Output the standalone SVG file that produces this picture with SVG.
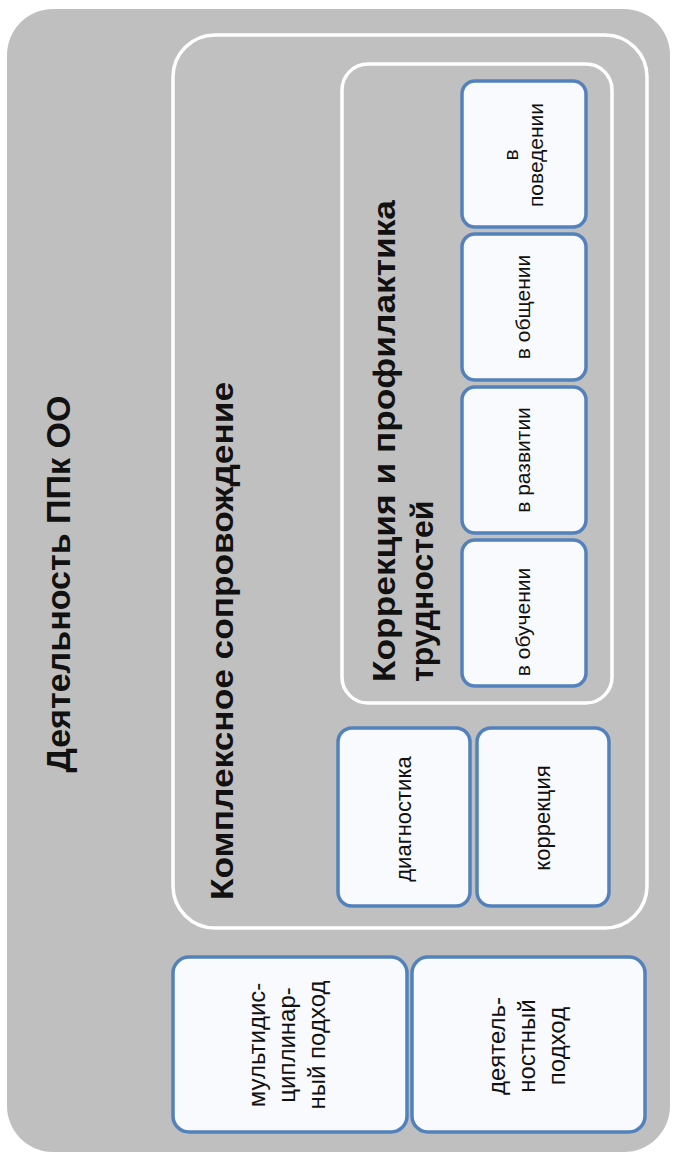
<svg xmlns="http://www.w3.org/2000/svg" width="673" height="1156" viewBox="0 0 673 1156">
<style>
.bg{fill:#bfbfbf}
.frame{fill:#c0c0c0;stroke:#ffffff;stroke-width:3.5}
.node{fill:#f8fafd;stroke:#5381bc;stroke-width:3.5}
text{font-family:"Liberation Sans",Arial,sans-serif;fill:#111}
.h{font-weight:bold;font-size:32px}
.s{font-size:21px;text-anchor:middle}
.d{font-size:22px;text-anchor:middle}
.m{font-size:24px;text-anchor:middle}
</style>
<rect width="673" height="1156" fill="#ffffff"/>
<g id="ppk">
<rect class="bg" x="7" y="9" width="663" height="1143" rx="46"/>
<text class="h" style="font-size:34px" text-anchor="middle" transform="translate(70,584) rotate(-90)" textLength="377" lengthAdjust="spacingAndGlyphs">Деятельность ППк ОО</text>
</g>
<g id="kompleks">
<rect class="frame" x="173" y="35" width="474" height="893" rx="42"/>
<text class="h" transform="translate(233,900) rotate(-90)" textLength="518" lengthAdjust="spacingAndGlyphs">Комплексное сопровождение</text>
</g>
<g id="korr-prof">
<rect class="frame" x="342" y="64" width="270" height="639" rx="26"/>
<text class="h" transform="translate(395,682) rotate(-90)" textLength="482" lengthAdjust="spacingAndGlyphs">Коррекция и профилактика</text>
<text class="h" transform="translate(433,682) rotate(-90)">трудностей</text>
</g>
<g id="v-povedenii">
<rect class="node" x="462" y="81" width="124" height="146" rx="13"/>
<text class="s" transform="translate(518,155) rotate(-90)">в</text>
<text class="s" transform="translate(543,155) rotate(-90)">поведении</text>
</g>
<g id="v-obshchenii">
<rect class="node" x="462" y="234" width="124" height="146" rx="13"/>
<text class="s" transform="translate(530,307) rotate(-90)">в общении</text>
</g>
<g id="v-razvitii">
<rect class="node" x="462" y="387" width="124" height="146" rx="13"/>
<text class="s" transform="translate(530,460) rotate(-90)">в развитии</text>
</g>
<g id="v-obuchenii">
<rect class="node" x="462" y="540" width="124" height="146" rx="13"/>
<text class="s" transform="translate(530,622) rotate(-90)">в обучении</text>
</g>
<g id="diagnostika">
<rect class="node" x="338" y="728" width="132" height="178" rx="14"/>
<text class="d" transform="translate(411,819) rotate(-90)">диагностика</text>
</g>
<g id="korrektsiya">
<rect class="node" x="477" y="728" width="132" height="178" rx="14"/>
<text class="d" transform="translate(550,818) rotate(-90)">коррекция</text>
</g>
<g id="multidisc">
<rect class="node" x="173" y="957" width="234" height="175" rx="16"/>
<text class="m" transform="translate(265,1045) rotate(-90)">мультидис-</text>
<text class="m" transform="translate(295,1045) rotate(-90)">циплинар-</text>
<text class="m" transform="translate(325,1045) rotate(-90)">ный подход</text>
</g>
<g id="deyatel">
<rect class="node" x="412" y="957" width="233" height="175" rx="16"/>
<text class="m" transform="translate(505,1046) rotate(-90)">деятель-</text>
<text class="m" transform="translate(535,1046) rotate(-90)">ностный</text>
<text class="m" transform="translate(565,1046) rotate(-90)">подход</text>
</g>
<g id="connectors"></g>
</svg>
